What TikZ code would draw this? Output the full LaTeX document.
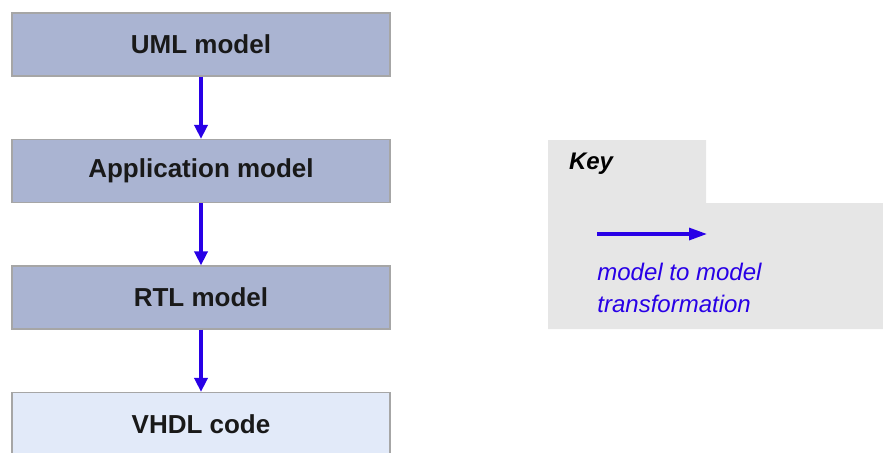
\documentclass[tikz,border=0pt]{standalone}
\usepackage{fontspec}
\setmainfont{Liberation Sans}
\usetikzlibrary{arrows.meta}
\definecolor{modelfill}{RGB}{170,180,210}
\definecolor{codefill}{RGB}{226,234,249}
\definecolor{keyfill}{RGB}{230,230,230}
\definecolor{trblue}{RGB}{40,0,230}
\tikzset{
    modelbox/.style={draw=black!35, line width=0.6pt, fill=modelfill,
        minimum width=189pt, minimum height=31.5pt,
        font=\fontsize{13}{15}\selectfont\bfseries, text=black!90},
    codebox/.style={modelbox, fill=codefill},
    transform/.style={draw=trblue, line width=2pt,
        -{Triangle[width=6.5pt,length=7pt]}},
}
\begin{document}
\begin{tikzpicture}[x=0.5pt,y=-0.5pt]
    \useasboundingbox (0,0) rectangle (883,452);
    % the chain of models
    \node[modelbox] (uml) at (201,44.5) {UML model};
    \node[modelbox] (app) at (201,171) {Application model};
    \node[modelbox] (rtl) at (201,297.5) {RTL model};
    \node[codebox] (vhdl) at (201,424) {VHDL code};
    \draw[transform] (uml) -- (app);
    \draw[transform] (app) -- (rtl);
    \draw[transform] (rtl) -- (vhdl);
    % key
    \fill[keyfill] (548,140) -- (706,140) -- (706,203) -- (883,203)
        -- (883,329) -- (548,329) -- cycle;
    \node[anchor=west, font=\fontsize{12}{14}\selectfont\bfseries\itshape]
        (key) at (562,164) {Key};
    \coordinate (keya) at (597,234);
    \coordinate (keyb) at (707,234);
    \draw[transform, line width=1.6pt, -{Triangle[width=6pt,length=9pt]}]
        (keya) -- (keyb);
    \node[anchor=north west, inner sep=0pt, align=left, text=trblue,
        font=\fontsize{12}{16}\selectfont\itshape] (keytext) at (597,263)
        {model to model\\transformation};
\end{tikzpicture}
\end{document}
